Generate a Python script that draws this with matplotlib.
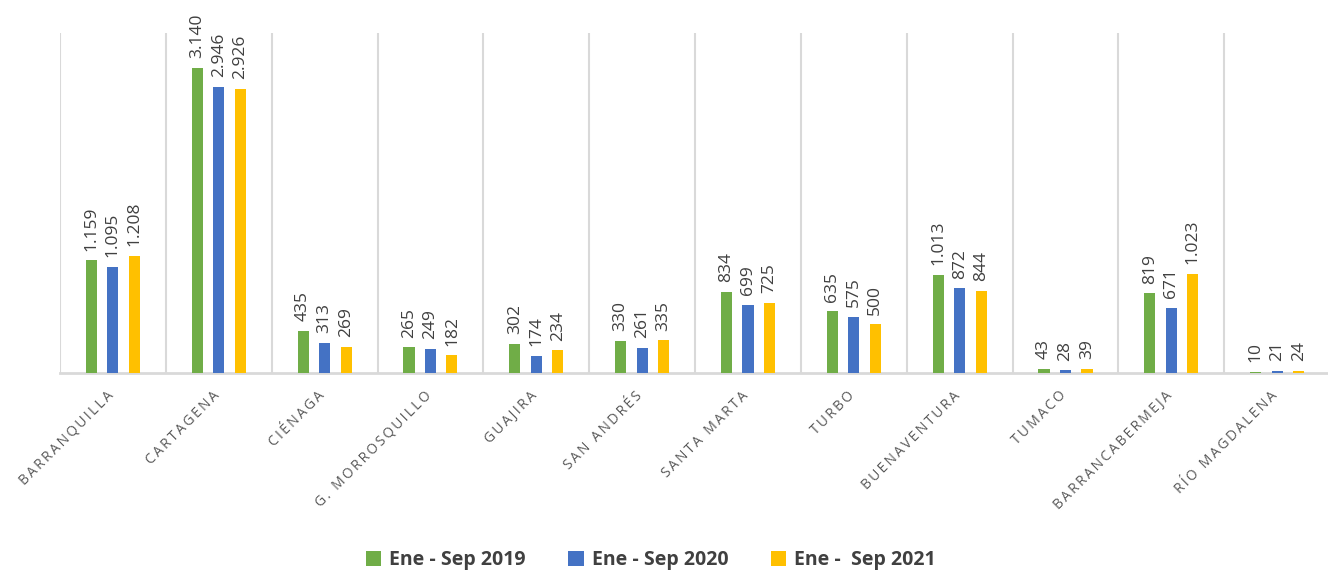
import matplotlib.pyplot as plt
import matplotlib.transforms as mtransforms
import numpy as np

puertos = ["BARRANQUILLA", "CARTAGENA", "CIÉNAGA", "G. MORROSQUILLO", "GUAJIRA",
           "SAN ANDRÉS", "SANTA MARTA", "TURBO", "BUENAVENTURA", "TUMACO",
           "BARRANCABERMEJA", "RÍO MAGDALENA"]
ene_sep_2019 = [1159, 3140, 435, 265, 302, 330, 834, 635, 1013, 43, 819, 10]
ene_sep_2020 = [1095, 2946, 313, 249, 174, 261, 699, 575, 872, 28, 671, 21]
ene_sep_2021 = [1208, 2926, 269, 182, 234, 335, 725, 500, 844, 39, 1023, 24]
series_labels = ["Ene - Sep 2019", "Ene - Sep 2020", "Ene -  Sep 2021"]
colors = ["#70AD47", "#4472C4", "#FFC000"]

plt.rcParams["font.family"] = ["Open Sans", "DejaVu Sans"]

fig = plt.figure(figsize=(13.28, 5.73), dpi=100)
ax = fig.add_axes([60 / 1328, 1 - 373 / 573, 1 - 60 / 1328, 340 / 573])

x = np.arange(len(puertos))
width = 0.105
offset = 0.203
for i, (vals, lab, col) in enumerate(zip([ene_sep_2019, ene_sep_2020, ene_sep_2021],
                                          series_labels, colors)):
    pos = x + (i - 1) * offset
    ax.bar(pos, vals, width, color=col, label=lab, zorder=3)
    for xp, v in zip(pos, vals):
        txt = f"{v:,}".replace(",", ".")
        ax.annotate(txt, (xp, v), xytext=(0, 7), textcoords="offset points",
                    rotation=90, ha="center", va="bottom", fontsize=12.5,
                    color="#404040")

ax.set_xlim(-0.5, 11.48)
ax.set_ylim(0, 3500)
ax.set_yticks([])
for b in np.arange(-0.5, 12, 1):
    ax.axvline(b, color="#d9d9d9", lw=1.5, zorder=1)
for s in ["top", "right", "left"]:
    ax.spines[s].set_visible(False)
ax.spines["bottom"].set_color("#d9d9d9")
ax.spines["bottom"].set_linewidth(2)

ax.set_xticks(x)
ax.set_xticklabels(["\u2009".join(p) for p in puertos], rotation=45, ha="right",
                   rotation_mode="anchor", fontsize=10, color="#595959")
ax.tick_params(axis="x", length=0, pad=11)
shift = mtransforms.ScaledTranslation(-7 / 100, 0, fig.dpi_scale_trans)
for lbl in ax.get_xticklabels():
    lbl.set_transform(lbl.get_transform() + shift)

fig.legend(loc="center", bbox_to_anchor=(0.49, 0.023), ncol=3, frameon=False,
           prop={"weight": "bold", "size": 14}, labelcolor="#404040",
           handlelength=0.8, handleheight=0.8, handletextpad=0.4, columnspacing=2.2)

fig.savefig("out.png", dpi=100)
